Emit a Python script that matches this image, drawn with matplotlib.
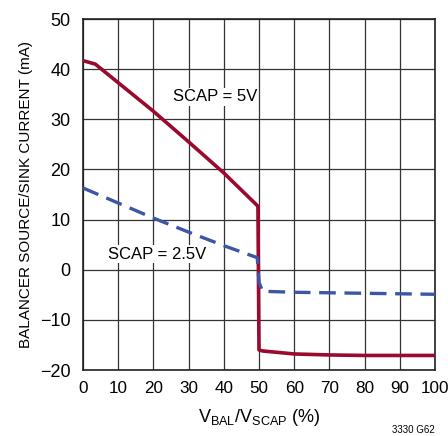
import matplotlib
matplotlib.use("Agg")
import matplotlib.pyplot as plt
from matplotlib import font_manager
import numpy as np

names = {f.name for f in font_manager.fontManager.ttflist}
font = 'Liberation Sans Narrow' if 'Liberation Sans Narrow' in names else 'Liberation Sans'
narrow = font == 'Liberation Sans Narrow'
plt.rcParams['font.family'] = [font, 'DejaVu Sans']
plt.rcParams['mathtext.fontset'] = 'custom'
plt.rcParams['mathtext.rm'] = font

# SCAP = 5V curve
x_5v = [0, 3.5, 10, 20, 30, 40, 49.5, 49.7, 50, 51, 60, 70, 80, 100]
y_5v = [41.7, 41, 37.3, 31.6, 25.5, 19.3, 12.8, 12.5, -16, -16.2, -16.8, -17, -17.1, -17.1]

# SCAP = 2.5V curve
x_25v = [0, 10, 20, 30, 40, 49.5, 50, 51, 60, 80, 100]
y_25v = [16.3, 13.3, 10.3, 7.5, 4.8, 2.4, -2.5, -4.3, -4.5, -4.7, -4.9]

xticks = np.arange(0, 101, 10)
yticks = np.arange(-20, 51, 10)

fs_xtick = 14.5 if narrow else 12.3
fs_ytick = 14.5 if narrow else 13
fs_ylab = 13 if narrow else 11
fs_note = 13.5 if narrow else 12

fig = plt.figure(figsize=(4.48, 4.36), dpi=100)
ax = fig.add_axes([83/448, 1-370/436, 352/448, 351/436])

ax.plot(x_5v, y_5v, color='#9a0a2e', lw=2.6, zorder=3, solid_joinstyle='round')
ax.plot(x_25v, y_25v, color='#3a56a5', lw=2.4, ls=(0, (5, 2.6)), zorder=3)

ax.set_xlim(0, 100)
ax.set_ylim(-20, 50)
ax.set_xticks(xticks)
ax.set_yticks(yticks)
ax.grid(True, color='#333333', lw=0.9)
ax.tick_params(axis='x', length=0, labelsize=fs_xtick, pad=8)
ax.tick_params(axis='y', length=0, labelsize=fs_ytick, pad=9)
for s in ax.spines.values():
    s.set_linewidth(1.2)
    s.set_color('#222222')

ax.set_ylabel('BALANCER SOURCE/SINK CURRENT (mA)', fontsize=fs_ylab, labelpad=5)
ax.set_xlabel(r'V$_\mathrm{BAL}$/V$_\mathrm{SCAP}$ (%)', fontsize=13, labelpad=8)

ax.text(25.5, 34.5, 'SCAP = 5V', fontsize=fs_note, va='center', ha='left', zorder=4,
        bbox=dict(facecolor='white', edgecolor='none', pad=1))
ax.text(7.1, 3.1, 'SCAP = 2.5V', fontsize=fs_note, va='center', ha='left', zorder=4,
        bbox=dict(facecolor='white', edgecolor='none', pad=1))

fig.text(435/448, 1/436, '3330 G62', fontsize=7, ha='right', va='bottom')

fig.savefig('out.png', dpi=100)
